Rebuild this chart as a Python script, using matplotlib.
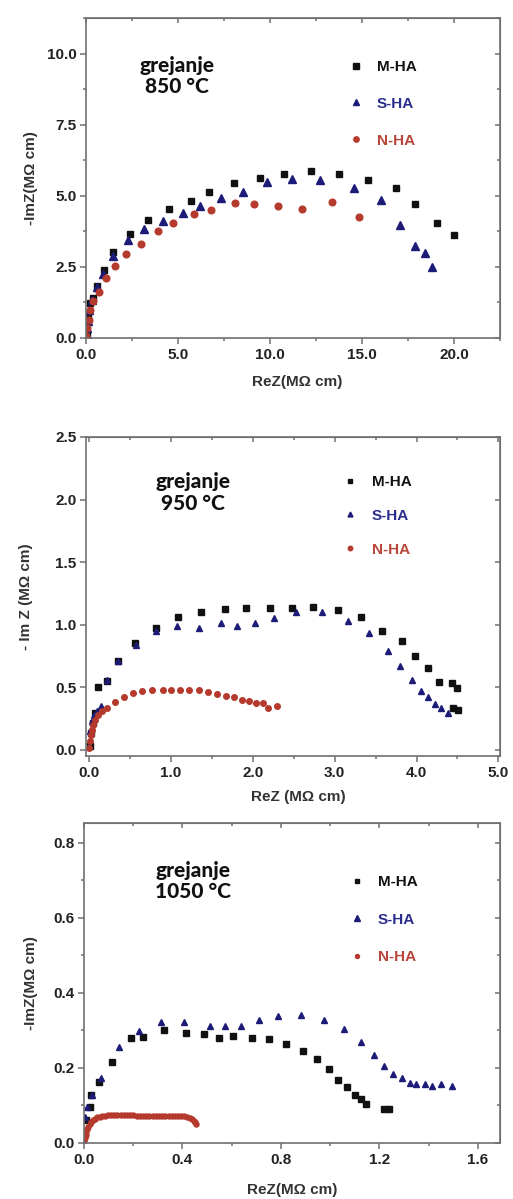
import matplotlib
matplotlib.use("Agg")
import matplotlib.pyplot as plt
from matplotlib.ticker import MultipleLocator, FormatStrFormatter

plt.rcParams['font.family'] = ['Liberation Sans', 'DejaVu Sans']
plt.rcParams['font.weight'] = 'bold'
plt.rcParams['axes.labelweight'] = 'bold'
plt.rcParams['font.size'] = 11

# --- grejanje 850 C ---
m850_x = [0.07, 0.13, 0.22, 0.36, 0.58, 1.0, 1.48, 2.39, 3.35, 4.51, 5.68, 6.70, 8.02, 9.43,
          10.77, 12.25, 13.75, 15.35, 16.87, 17.88, 19.09, 19.98]
m850_y = [0.18, 0.76, 1.23, 1.41, 1.84, 2.38, 3.02, 3.65, 4.16, 4.52, 4.82, 5.13, 5.46, 5.63,
          5.78, 5.88, 5.76, 5.55, 5.26, 4.71, 4.05, 3.62]
s850_x = [0.04, 0.07, 0.13, 0.18, 0.33, 0.58, 0.90, 1.48, 2.28, 3.15, 4.20, 5.25, 6.19, 7.31,
          8.54, 9.81, 11.22, 12.74, 14.57, 16.03, 17.08, 17.86, 18.40, 18.82]
s850_y = [0.12, 0.35, 0.59, 1.00, 1.35, 1.79, 2.26, 2.87, 3.45, 3.83, 4.13, 4.39, 4.63, 4.92,
          5.12, 5.47, 5.60, 5.55, 5.27, 4.84, 3.96, 3.22, 2.99, 2.48]
n850_x = [0.0, 0.07, 0.14, 0.22, 0.36, 0.72, 1.09, 1.57, 2.17, 2.97, 3.93, 4.74, 5.86, 6.82,
          8.09, 9.14, 10.46, 11.76, 13.39, 14.84]
n850_y = [0.06, 0.35, 0.64, 0.97, 1.31, 1.62, 2.10, 2.52, 2.96, 3.30, 3.75, 4.04, 4.36, 4.50,
          4.73, 4.70, 4.64, 4.54, 4.78, 4.26]

# --- grejanje 950 C ---
m950_x = [0.01, 0.02, 0.04, 0.07, 0.11, 0.22, 0.35, 0.56, 0.815, 1.08, 1.36, 1.66, 1.92, 2.21,
          2.48, 2.73, 3.04, 3.32, 3.58, 3.82, 3.98, 4.14, 4.27, 4.43, 4.49, 4.45, 4.51]
m950_y = [0.03, 0.13, 0.21, 0.29, 0.50, 0.55, 0.71, 0.85, 0.97, 1.06, 1.10, 1.125, 1.13, 1.13,
          1.13, 1.14, 1.12, 1.06, 0.95, 0.87, 0.75, 0.65, 0.54, 0.53, 0.49, 0.33, 0.32]
s950_x = [0.0, 0.01, 0.03, 0.06, 0.10, 0.14, 0.22, 0.35, 0.57, 0.815, 1.07, 1.34, 1.61, 1.81,
          2.02, 2.26, 2.53, 2.85, 3.16, 3.42, 3.65, 3.80, 3.95, 4.05, 4.14, 4.22, 4.30, 4.39]
s950_y = [0.03, 0.15, 0.23, 0.28, 0.31, 0.35, 0.555, 0.71, 0.84, 0.95, 0.99, 0.97, 1.01, 0.99,
          1.01, 1.05, 1.10, 1.10, 1.03, 0.93, 0.79, 0.67, 0.56, 0.47, 0.42, 0.365, 0.33, 0.29]
n950_x = [0.0, 0.01, 0.02, 0.03, 0.05, 0.07, 0.11, 0.16, 0.22, 0.32, 0.43, 0.54, 0.65, 0.77,
          0.90, 1.0, 1.11, 1.22, 1.34, 1.45, 1.56, 1.67, 1.77, 1.87, 1.95, 2.04, 2.12, 2.18, 2.29]
n950_y = [0.01, 0.07, 0.12, 0.16, 0.20, 0.24, 0.28, 0.31, 0.33, 0.38, 0.42, 0.45, 0.47, 0.48,
          0.475, 0.475, 0.475, 0.475, 0.475, 0.46, 0.445, 0.43, 0.42, 0.40, 0.39, 0.37, 0.37,
          0.33, 0.35]

# --- grejanje 1050 C ---
m1050_x = [0.01, 0.023, 0.027, 0.062, 0.112, 0.189, 0.24, 0.326, 0.415, 0.489, 0.55, 0.605,
           0.684, 0.753, 0.821, 0.889, 0.947, 0.996, 1.033, 1.07, 1.10, 1.126, 1.145, 1.218,
           1.238]
m1050_y = [0.06, 0.096, 0.127, 0.163, 0.215, 0.279, 0.283, 0.301, 0.292, 0.290, 0.281, 0.285,
           0.279, 0.276, 0.264, 0.246, 0.223, 0.196, 0.169, 0.148, 0.129, 0.116, 0.105, 0.09,
           0.09]
s1050_x = [0.004, 0.014, 0.034, 0.068, 0.144, 0.222, 0.312, 0.406, 0.513, 0.571, 0.636, 0.712,
           0.79, 0.88, 0.974, 1.056, 1.125, 1.177, 1.22, 1.256, 1.29, 1.323, 1.348, 1.386,
           1.414, 1.45, 1.494]
s1050_y = [0.069, 0.096, 0.127, 0.172, 0.255, 0.298, 0.322, 0.323, 0.313, 0.313, 0.313, 0.328,
           0.339, 0.34, 0.328, 0.303, 0.27, 0.234, 0.206, 0.184, 0.172, 0.16, 0.157, 0.157,
           0.152, 0.156, 0.151]
n1050_x = [0.002, 0.004, 0.007, 0.010, 0.014, 0.018, 0.023, 0.029, 0.036, 0.044, 0.053, 0.063,
           0.074, 0.086, 0.098, 0.110, 0.123, 0.136, 0.149, 0.162, 0.175, 0.188, 0.201, 0.214,
           0.227, 0.240, 0.253, 0.266, 0.279, 0.292, 0.305, 0.318, 0.331, 0.344, 0.357, 0.370,
           0.383, 0.396, 0.408, 0.419, 0.429, 0.438, 0.446, 0.452, 0.457]
n1050_y = [0.005, 0.012, 0.020, 0.028, 0.036, 0.043, 0.050, 0.056, 0.061, 0.065, 0.068, 0.070,
           0.072, 0.073, 0.074, 0.074, 0.075, 0.075, 0.075, 0.075, 0.074, 0.074, 0.074, 0.073,
           0.073, 0.072, 0.072, 0.071, 0.071, 0.072, 0.072, 0.072, 0.073, 0.073, 0.073, 0.073,
           0.073, 0.072, 0.071, 0.069, 0.066, 0.063, 0.059, 0.055, 0.051]

labels = ["M-HA", "S-HA", "N-HA"]
temps = ["850 °C", "950 °C", "1050 °C"]

black = "#111111"
blue = "#1c1c78"
red = "#b5392c"
label_colors = ["#111111", "#2a2e8c", "#b8463a"]
spine_col = "#707070"
text_col = "#222222"


def style(ax, xmaj, xmin, ymaj, ymin):
    for s in ax.spines.values():
        s.set_color(spine_col)
        s.set_linewidth(1.2)
    ax.xaxis.set_major_locator(MultipleLocator(xmaj))
    ax.yaxis.set_major_locator(MultipleLocator(ymaj))
    if xmin:
        ax.xaxis.set_minor_locator(MultipleLocator(xmin))
    if ymin:
        ax.yaxis.set_minor_locator(MultipleLocator(ymin))
    ax.xaxis.set_major_formatter(FormatStrFormatter('%.1f'))
    ax.yaxis.set_major_formatter(FormatStrFormatter('%.1f'))
    ax.tick_params(which='both', direction='out', top=False, right=False,
                   color=spine_col, labelcolor=text_col, width=1.1)
    ax.tick_params(which='major', length=4, pad=3)
    ax.tick_params(which='minor', length=2.5)
    # inward ticks on top and right
    top = ax.secondary_xaxis('top')
    top.xaxis.set_major_locator(MultipleLocator(xmaj))
    if xmin:
        top.xaxis.set_minor_locator(MultipleLocator(xmin))
    top.tick_params(which='both', direction='in', labeltop=False, color=spine_col, width=1.1)
    top.tick_params(which='major', length=3.5)
    top.tick_params(which='minor', length=2.5)
    top.spines['top'].set_color(spine_col)
    right = ax.secondary_yaxis('right')
    right.yaxis.set_major_locator(MultipleLocator(ymaj))
    if ymin:
        right.yaxis.set_minor_locator(MultipleLocator(ymin))
    right.tick_params(which='both', direction='in', labelright=False, color=spine_col, width=1.1)
    right.tick_params(which='major', length=3.5)
    right.tick_params(which='minor', length=2.5)
    right.spines['right'].set_color(spine_col)


fig = plt.figure(figsize=(5.13, 11.99), dpi=100)
fig.patch.set_facecolor('white')

W, H = 513.0, 1199.0
boxes = [(86, 18, 500, 338), (86, 437, 500, 756), (84, 823, 500, 1143)]
axs = []
for (l, t, r, b) in boxes:
    axs.append(fig.add_axes([l / W, 1 - b / H, (r - l) / W, (b - t) / H]))

data = [
    (m850_x, m850_y, s850_x, s850_y, n850_x, n850_y),
    (m950_x, m950_y, s950_x, s950_y, n950_x, n950_y),
    (m1050_x, m1050_y, s1050_x, s1050_y, n1050_x, n1050_y),
]
msizes = [(4.8, 5.4, 4.8), (4.0, 4.4, 4.0), (4.2, 4.8, 3.6)]

for i, ax in enumerate(axs):
    mx, my, sx, sy, nx_, ny = data[i]
    ms = msizes[i]
    ax.plot(mx, my, ls='none', marker='s', ms=ms[0], color=black, label=labels[0])
    ax.plot(sx, sy, ls='none', marker='^', ms=ms[1], color=blue, label=labels[1])
    ax.plot(nx_, ny, ls='none', marker='o', ms=ms[2], color=red, label=labels[2])

# axis ranges and ticks
axs[0].set_xlim(0, 22.5)
axs[0].set_ylim(0, 11.25)
style(axs[0], 5, 2.5, 2.5, 1.25)
axs[1].set_xlim(-0.04, 5.02)
axs[1].set_ylim(-0.05, 2.5)
style(axs[1], 1, 0.5, 0.5, None)
axs[2].set_xlim(0, 1.69)
axs[2].set_ylim(0, 0.853)
style(axs[2], 0.4, 0.2, 0.2, 0.1)

# axis labels
xlabels = ["ReZ(MΩ cm)", "ReZ (MΩ cm)", "ReZ(MΩ cm)"]
ylabels = ["-ImZ(MΩ cm)", "- Im Z (MΩ cm)", "-ImZ(MΩ cm)"]
xlab_pos = [(0.51, -0.116), (0.512, -0.107), (0.5, -0.125)]
ylab_pos = [(-0.116, 0.5), (-0.128, 0.5), (-0.11, 0.5)]
for i, ax in enumerate(axs):
    ax.set_xlabel(xlabels[i], color="#333333", fontsize=11, fontweight='bold')
    ax.set_ylabel(ylabels[i], color="#333333", fontsize=11, fontweight='bold')
    ax.xaxis.set_label_coords(*xlab_pos[i])
    ax.yaxis.set_label_coords(*ylab_pos[i])

# "grejanje" notes
note_pos = [(0.22, 0.819), (0.258, 0.826), (0.262, 0.819)]
for i, ax in enumerate(axs):
    ax.text(note_pos[i][0], note_pos[i][1], "grejanje\n" + temps[i], transform=ax.transAxes,
            ha='center', va='center', fontsize=15, family=['Lato', 'DejaVu Sans'],
            fontweight='black', linespacing=1.15, color="#111111")

# legends
leg_pos = [(0.633, 0.869), (0.62, 0.881), (0.637, 0.8375)]
leg_space = [1.5, 1.3, 1.55]
for i, ax in enumerate(axs):
    leg = ax.legend(loc='upper left', bbox_to_anchor=leg_pos[i], frameon=False,
                    handlelength=1.0, handletextpad=0.9, labelspacing=leg_space[i],
                    borderpad=0, borderaxespad=0, markerscale=0.8, fontsize=11)
    for txt, c in zip(leg.get_texts(), label_colors):
        txt.set_color(c)

fig.savefig("out.png", dpi=100, facecolor='white')
